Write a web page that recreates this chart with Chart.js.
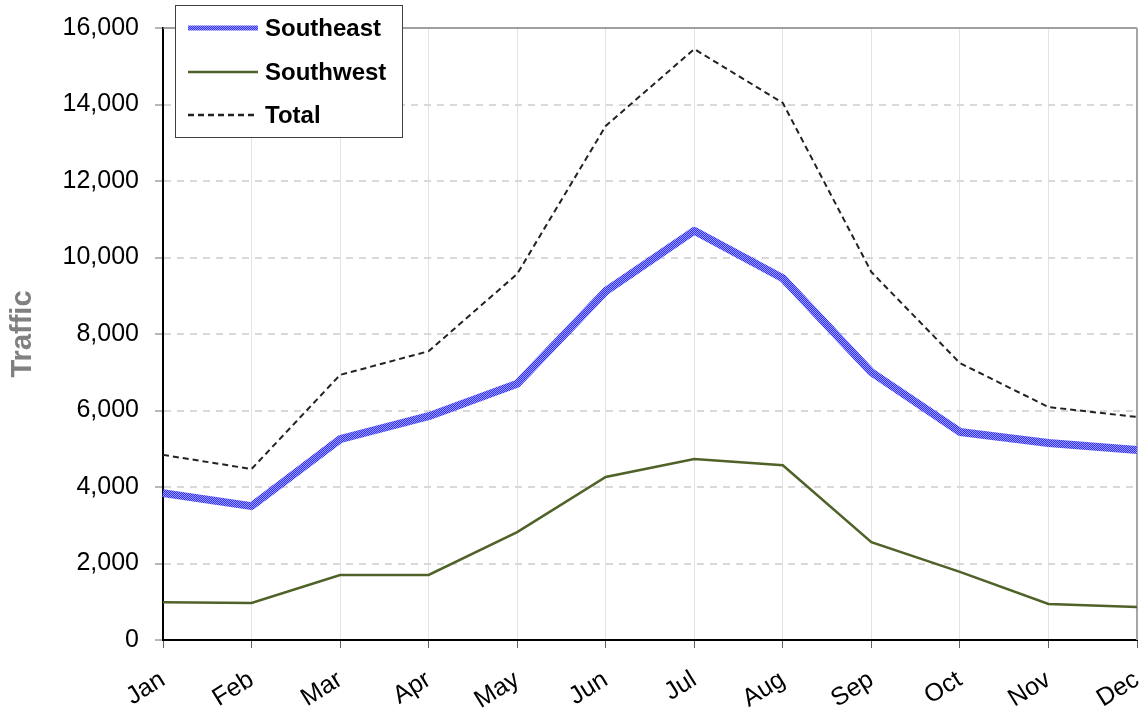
<!DOCTYPE html>
<html>
<head>
<meta charset="utf-8">
<script src="https://cdn.jsdelivr.net/npm/chart.js@4"></script>
<style>
html,body{margin:0;padding:0;background:#fff;}
#wrap{position:relative;width:1144px;height:715px;}
</style>
</head>
<body>
<div id="wrap"><canvas id="c" width="1144" height="715"></canvas></div>
<script>
const months = ['Jan','Feb','Mar','Apr','May','Jun','Jul','Aug','Sep','Oct','Nov','Dec'];
const southeast = [3840, 3500, 5250, 5850, 6700, 9120, 10700, 9460, 7000, 5440, 5150, 4970];
const southwest = [990, 970, 1700, 1700, 2820, 4260, 4730, 4570, 2560, 1780, 940, 860];
const total = [4840, 4470, 6930, 7550, 9570, 13440, 15450, 14040, 9620, 7240, 6090, 5830];
const yTicks = [0, 2000, 4000, 6000, 8000, 10000, 12000, 14000, 16000];
const seriesNames = ['Southeast', 'Southwest', 'Total'];

function makePattern(g0) {
  const p = document.createElement('canvas');
  p.width = 2; p.height = 2;
  const g = p.getContext('2d');
  g.fillStyle = '#2f2fff'; g.fillRect(0,0,2,2);
  g.fillStyle = '#9c9cff'; g.fillRect(0,0,1,1); g.fillRect(1,1,1,1);
  return g0.createPattern(p, 'repeat');
}
const ctx = document.getElementById('c').getContext('2d');
const sePattern = makePattern(ctx);

const FONT = "'Liberation Sans', Arial, sans-serif";

const framePlugin = {
  id: 'frame',
  beforeDatasetsDraw(chart) {
    const {ctx, chartArea: a} = chart;
    ctx.save();
    ctx.strokeStyle = '#808080';
    ctx.lineWidth = 1.5;
    ctx.beginPath();
    ctx.moveTo(a.left, a.top); ctx.lineTo(a.right, a.top);
    ctx.stroke();
    ctx.strokeStyle = '#a6a6a6';
    ctx.lineWidth = 2;
    ctx.beginPath();
    ctx.moveTo(a.right, a.top); ctx.lineTo(a.right, a.bottom);
    ctx.stroke();
    ctx.restore();
  },
  afterDraw(chart) {
    const {ctx} = chart;
    const x = 175, y = 5, w = 227, h = 132;
    ctx.save();
    ctx.fillStyle = '#fff';
    ctx.fillRect(x, y, w, h);
    ctx.strokeStyle = '#404040';
    ctx.lineWidth = 1;
    ctx.strokeRect(x + 0.5, y + 0.5, w, h);
    const rows = [28, 72, 115];
    chart.data.datasets.forEach((ds, i) => {
      const ry = rows[i];
      ctx.save();
      ctx.strokeStyle = ds.borderColor;
      ctx.lineWidth = i === 0 ? 5 : 2.5;
      ctx.setLineDash(ds.borderDash || []);
      ctx.beginPath();
      ctx.moveTo(188, ry); ctx.lineTo(258, ry);
      ctx.stroke();
      ctx.restore();
      ctx.fillStyle = '#000';
      ctx.font = 'bold 24px ' + FONT;
      ctx.textBaseline = 'middle';
      ctx.textAlign = 'left';
      ctx.fillText(ds.label, 265, ry + 1);
    });
    ctx.restore();
  }
};

new Chart(ctx, {
  type: 'line',
  data: {
    labels: months,
    datasets: [
      { label: seriesNames[0], data: southeast, borderColor: sePattern, borderWidth: 8, pointRadius: 0, tension: 0, borderJoinStyle: 'round', order: 2 },
      { label: seriesNames[1], data: southwest, borderColor: '#4f6228', borderWidth: 2.5, pointRadius: 0, tension: 0, order: 1 },
      { label: seriesNames[2], data: total, borderColor: '#222222', borderWidth: 2, borderDash: [6, 4], pointRadius: 0, tension: 0, order: 0 }
    ]
  },
  options: {
    responsive: false,
    animation: false,
    layout: { padding: { top: 28, right: 7, left: 0, bottom: 0 } },
    plugins: { legend: { display: false }, tooltip: { enabled: false } },
    scales: {
      x: {
        offset: false,
        grid: { color: '#e3e3e3', lineWidth: 1, tickColor: '#606060', tickLength: 8, drawOnChartArea: true },
        border: { color: '#000', width: 2 },
        ticks: { color: '#000', font: { family: FONT, size: 25 }, minRotation: 32, maxRotation: 32, padding: 17, autoSkip: false },
        afterFit(s) { s.height = 75; s.paddingLeft = 0; s.paddingRight = 0; }
      },
      y: {
        min: 0, max: 16000,
        afterBuildTicks(s) { s.ticks = yTicks.map(v => ({ value: v })); },
        grid: {
          color: (c) => c.tick && c.tick.value === 16000 ? 'rgba(0,0,0,0)' : '#d9d9d9',
          lineWidth: 2, tickColor: '#707070', tickLength: 8, tickBorderDash: [], tickWidth: 1
        },
        border: { color: '#000', width: 2, dash: [7, 6] },
        ticks: { color: '#000', font: { family: FONT, size: 25 }, padding: 16, callback: (v) => v.toLocaleString('en-US') },
        title: { display: true, text: 'Traffic', color: '#808080', font: { family: FONT, size: 29, weight: 'bold' }, padding: { top: 6, bottom: 8 } },
        afterFit(s) { s.width = 163; s.paddingTop = 0; s.paddingBottom = 0; }
      }
    }
  },
  plugins: [framePlugin]
});
</script>
</body>
</html>
